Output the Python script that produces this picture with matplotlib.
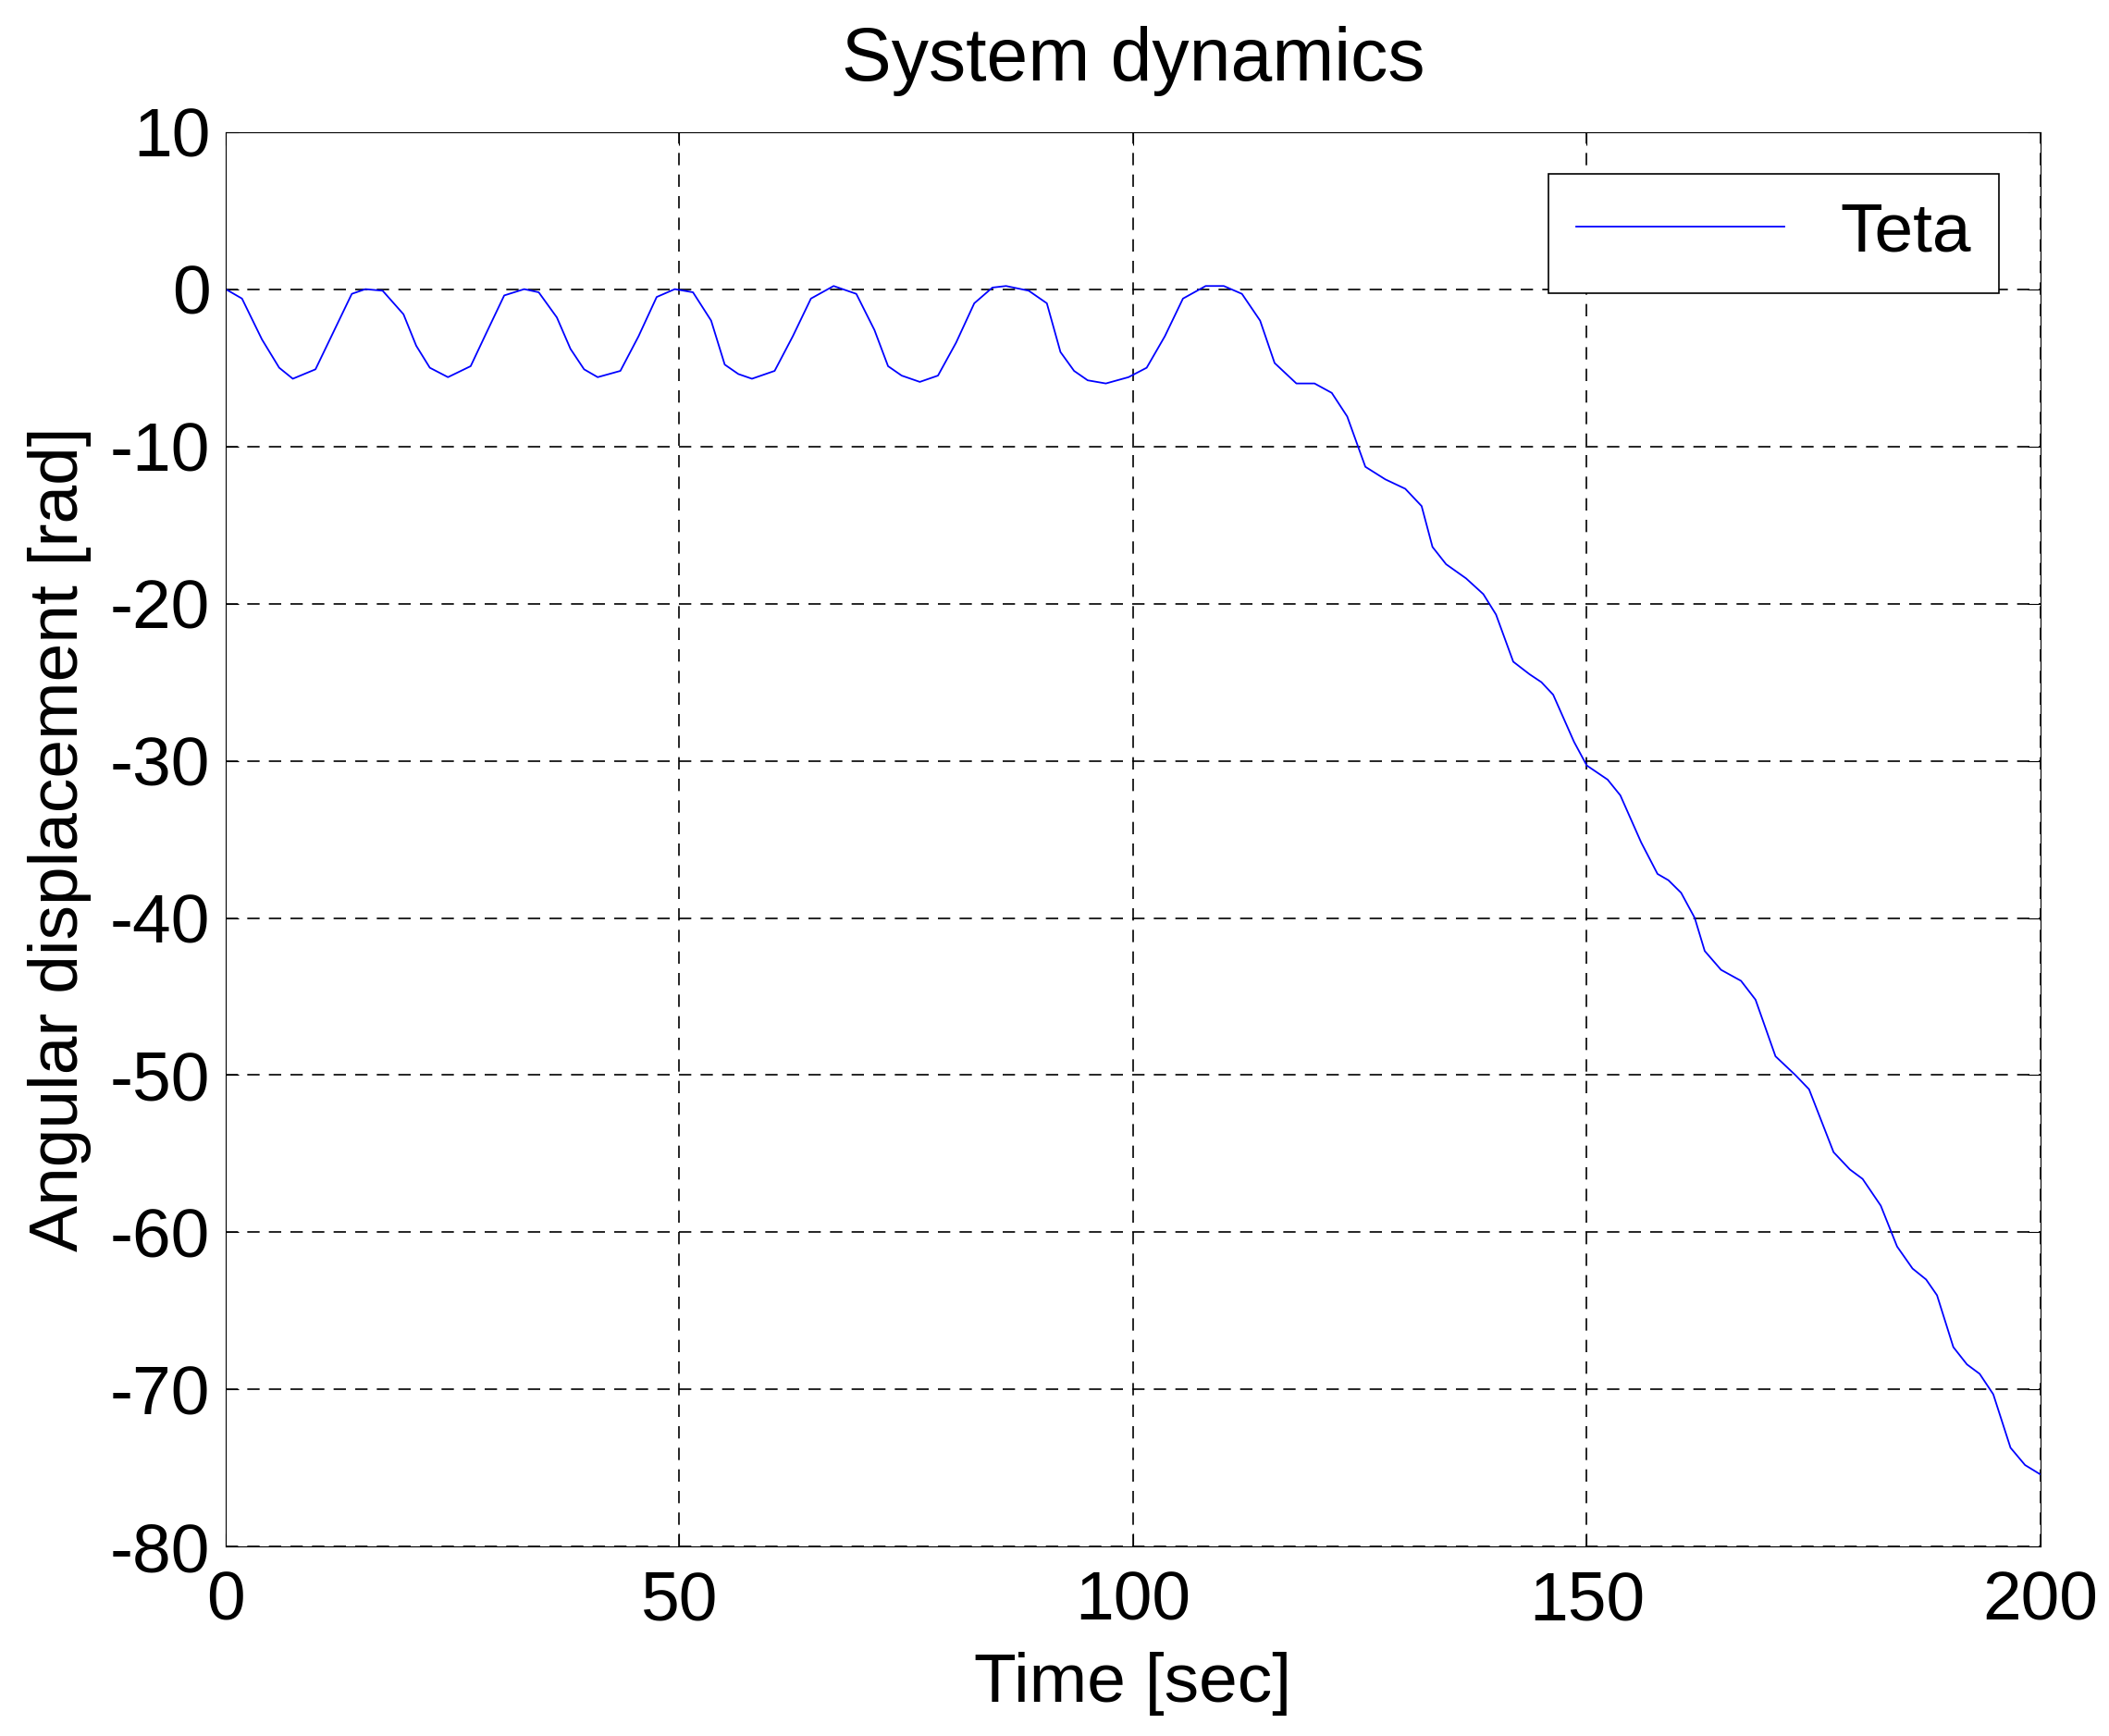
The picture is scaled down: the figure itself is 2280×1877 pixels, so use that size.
import matplotlib
matplotlib.use("Agg")
import matplotlib.pyplot as plt

plt.rcParams["font.family"] = ["Liberation Sans", "DejaVu Sans"]
plt.rcParams["axes.unicode_minus"] = False

# Teta curve
time_s = [0, 1.8, 4, 5.9, 7.4, 9.9, 11.9, 13.9, 15.4, 17.3, 19.6, 21, 22.5, 24.5, 27, 28.8,
          30.7, 32.9, 34.5, 36.5, 38, 39.5, 41, 43.5, 45.5, 47.5, 49.5, 51.5, 53.5, 55,
          56.5, 58, 60.5, 62.5, 64.5, 67, 69.5, 71.5, 73, 74.5, 76.5, 78.5, 80.5, 82.5,
          84.5, 86, 88.5, 90.5, 92, 93.5, 95, 97, 99.5, 101.5, 103.5, 105.5, 108, 110,
          112, 114, 115.6, 118, 120, 121.9, 123.6, 125.6, 127.8, 130, 131.8, 133, 134.5,
          136.7, 138.6, 140, 141.9, 143.7, 145, 146.3, 148.6, 150, 152.3, 153.7, 156,
          157.8, 159, 160.4, 161.9, 163, 164.8, 167, 168.6, 170.8, 173, 174.5, 177.2, 179,
          180.4, 182.4, 184.2, 185.9, 187.4, 188.6, 190.4, 191.9, 193.3, 194.8, 196.7,
          198.3, 200]
teta = [0, -0.6, -3.2, -5.0, -5.7, -5.1, -2.7, -0.3, 0, -0.1, -1.6, -3.6, -5.0, -5.6, -4.9, -2.7,
        -0.4, 0, -0.2, -1.8, -3.8, -5.1, -5.6, -5.2, -3.0, -0.5, 0, -0.2, -2.0, -4.8,
        -5.4, -5.7, -5.2, -3.0, -0.6, 0.2, -0.3, -2.6, -4.9, -5.5, -5.9, -5.5, -3.4, -0.9,
        0.1, 0.2, -0.1, -0.9, -4.0, -5.2, -5.8, -6.0, -5.6, -5.0, -3.0, -0.6, 0.2, 0.2,
        -0.3, -2.0, -4.7, -6.0, -6.0, -6.6, -8.1, -11.3, -12.1, -12.7, -13.8, -16.4, -17.5,
        -18.4, -19.4, -20.7, -23.7, -24.5, -25.0, -25.8, -28.8, -30.3, -31.2, -32.2, -35.2,
        -37.2, -37.6, -38.4, -40.0, -42.1, -43.3, -44.0, -45.2, -48.8, -50.0, -50.9, -54.9, -56.0,
        -56.6, -58.3, -60.9, -62.3, -63.0, -64.0, -67.3, -68.4, -69.0, -70.3, -73.7,
        -74.8, -75.4]

fig = plt.figure(figsize=(22.8, 18.77), dpi=100)
ax = fig.add_axes([0.107, 0.109, 0.8605, 0.815])
ax.plot(time_s, teta, color="#0000ff", lw=1.3, label="Teta")
ax.set_xlim(0, 200)
ax.set_ylim(-80, 10)
ax.set_xticks(range(0, 201, 50))
ax.set_yticks(range(-80, 11, 10))
ax.grid(True, color="k", ls=(0, (8, 6)), lw=1.2)
ax.tick_params(labelsize=54, direction="in", length=10, top=True, right=True)
ax.tick_params(axis="x", pad=18)
ax.tick_params(axis="y", pad=12)
ax.set_xlabel("Time [sec]", fontsize=54, labelpad=14)
ax.set_ylabel("Angular displacement [rad]", fontsize=54, labelpad=14)
ax.set_title("System dynamics", fontsize=58, pad=40)
leg = ax.legend(loc="upper right", fontsize=54, fancybox=False, edgecolor="k",
                framealpha=1, handlelength=3, borderaxespad=0.6)
leg.get_frame().set_linewidth(1.2)
fig.savefig("out.png", dpi=100)
